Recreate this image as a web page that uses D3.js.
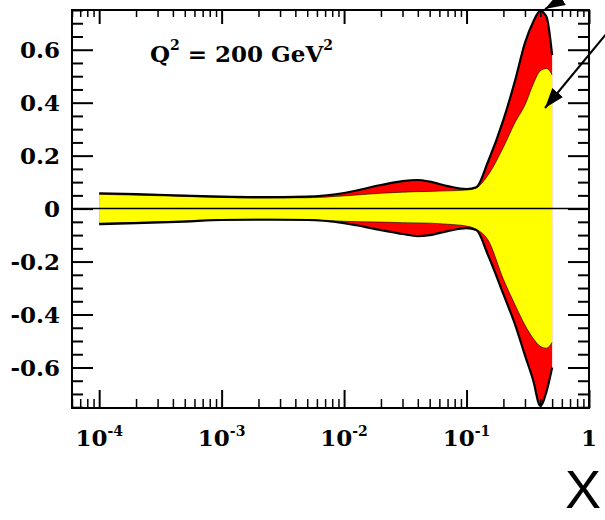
<!DOCTYPE html>
<html>
<head>
<meta charset="utf-8">
<script src="https://cdnjs.cloudflare.com/ajax/libs/d3/7.8.5/d3.min.js"></script>
<style>
body { margin:0; background:#fff; }
svg text { font-family: "DejaVu Serif", serif; font-weight: bold; fill:#000; }
</style>
</head>
<body>
<script>
// x points and band edges
var xs      = [1e-4, 2e-4, 5e-4, 1e-3, 2e-3, 5e-3, 1e-2, 2e-2, 3e-2, 4e-2, 5e-2, 7e-2, 0.1, 0.12, 0.15, 0.2, 0.25, 0.3, 0.35, 0.4, 0.45, 0.5];
var redUp   = [0.058, 0.055, 0.049, 0.045, 0.043, 0.045, 0.059, 0.089, 0.104, 0.108, 0.102, 0.085, 0.074, 0.081, 0.178, 0.335, 0.486, 0.626, 0.705, 0.747, 0.724, 0.58];
var redLo   = [-0.059, -0.055, -0.049, -0.043, -0.042, -0.043, -0.055, -0.081, -0.096, -0.104, -0.1, -0.085, -0.074, -0.081, -0.176, -0.323, -0.44, -0.554, -0.648, -0.745, -0.69, -0.6];
var yelUp   = [0.054, 0.051, 0.046, 0.042, 0.04, 0.041, 0.048, 0.058, 0.062, 0.064, 0.065, 0.067, 0.07, 0.078, 0.127, 0.232, 0.327, 0.391, 0.47, 0.52, 0.529, 0.505];
var yelLo   = [-0.055, -0.052, -0.047, -0.041, -0.04, -0.041, -0.048, -0.051, -0.053, -0.054, -0.055, -0.059, -0.066, -0.078, -0.119, -0.267, -0.365, -0.44, -0.49, -0.52, -0.527, -0.505];

var xMajor  = [1e-4, 1e-3, 1e-2, 1e-1, 1];
var xLabels = [["10", "-4"], ["10", "-3"], ["10", "-2"], ["10", "-1"], ["1", ""]];
var yMajor  = [-0.6, -0.4, -0.2, 0, 0.2, 0.4, 0.6];
var yLabels = ["-0.6", "-0.4", "-0.2", "0", "0.2", "0.4", "0.6"];

var W = 605, H = 520;
// frame edges (note: "top" is taken by window.top)
var fLeft = 72, fRight = 589, fTop = 10, fBottom = 408;

var svg = d3.select("body").append("svg").attr("width", W).attr("height", H);

var x = d3.scaleLog().domain([6e-5, 1]).range([fLeft, fRight]);
var y = d3.scaleLinear().domain([-0.753, 0.75]).range([fBottom, fTop]);

var pts = xs.map(function(v, i){
	return {x: v, ru: redUp[i], rl: redLo[i], yu: yelUp[i], yl: yelLo[i]};
});

var band = function(hi, lo){
	return d3.area()
		.x(function(d){ return x(d.x); })
		.y0(function(d){ return y(d[lo]); })
		.y1(function(d){ return y(d[hi]); })
		.curve(d3.curveMonotoneX);
};
var edge = function(k){
	return d3.line()
		.x(function(d){ return x(d.x); })
		.y(function(d){ return y(d[k]); })
		.curve(d3.curveMonotoneX);
};

svg.append("path").datum(pts).attr("d", band("ru", "rl")).attr("fill", "#ff0000");
svg.append("path").datum(pts).attr("d", band("yu", "yl")).attr("fill", "#ffff00");

["yu", "yl"].forEach(function(k){
	svg.append("path").datum(pts).attr("d", edge(k))
		.attr("fill", "none").attr("stroke", "#000").attr("stroke-opacity", 0.6).attr("stroke-width", 1);
});
["ru", "rl"].forEach(function(k){
	svg.append("path").datum(pts).attr("d", edge(k))
		.attr("fill", "none").attr("stroke", "#000").attr("stroke-width", 2.2);
});

// zero line
svg.append("line")
	.attr("x1", fLeft).attr("x2", fRight)
	.attr("y1", y(0)).attr("y2", y(0))
	.attr("stroke", "#000").attr("stroke-width", 1.5);

// ticks, all pointing inward
var xMinor = x.ticks().filter(function(v){ return xMajor.indexOf(v) < 0; });
var yMinor = y.ticks(30).filter(function(v){
	return !yMajor.some(function(m){ return Math.abs(m - v) < 1e-6; });
});

var tickAxis = function(axis, vals, size, tx, ty, w){
	var g = svg.append("g").attr("transform", "translate(" + tx + "," + ty + ")")
		.call(axis.tickValues(vals).tickSize(-size).tickFormat(""));
	g.select(".domain").remove();
	g.selectAll("line").attr("stroke", "#000").attr("stroke-width", w);
};
tickAxis(d3.axisBottom(x), xMajor, 18, 0, fBottom, 2);
tickAxis(d3.axisBottom(x), xMinor, 9, 0, fBottom, 1.5);
tickAxis(d3.axisTop(x), xMajor, 14, 0, fTop, 2);
tickAxis(d3.axisTop(x), xMinor, 7, 0, fTop, 1.5);
tickAxis(d3.axisLeft(y), yMajor, 21, fLeft, 0, 2);
tickAxis(d3.axisLeft(y), yMinor, 11, fLeft, 0, 2);
tickAxis(d3.axisRight(y), yMajor, 21, fRight, 0, 2);
tickAxis(d3.axisRight(y), yMinor, 11, fRight, 0, 2);

svg.append("rect")
	.attr("x", fLeft).attr("y", fTop)
	.attr("width", fRight - fLeft).attr("height", fBottom - fTop)
	.attr("fill", "none").attr("stroke", "#000").attr("stroke-width", 2);

// tick labels
svg.selectAll(".ylab").data(yMajor).enter().append("text")
	.attr("class", "ylab")
	.attr("x", 60).attr("y", function(d){ return y(d); })
	.attr("dy", "0.36em")
	.attr("text-anchor", "end")
	.style("font-size", "23px")
	.text(function(d, i){ return yLabels[i]; });

var xl = svg.selectAll(".xlab").data(xMajor).enter().append("text")
	.attr("class", "xlab")
	.attr("x", function(d){ return x(d); }).attr("y", 446)
	.attr("text-anchor", "middle")
	.style("font-size", "23px");
xl.append("tspan").text(function(d, i){ return xLabels[i][0]; });
xl.append("tspan").attr("dy", -10).style("font-size", "14px")
	.text(function(d, i){ return xLabels[i][1]; });

// Q^2 label
var t = svg.append("text").attr("x", 150).attr("y", 62).style("font-size", "23px");
t.append("tspan").text("Q");
t.append("tspan").attr("dy", -12).style("font-size", "14px").text("2");
t.append("tspan").attr("dy", 12).text(" = 200 GeV");
t.append("tspan").attr("dy", -12).style("font-size", "14px").text("2");

// big X
svg.append("text").attr("x", 583).attr("y", 508)
	.attr("text-anchor", "middle")
	.style("font-family", "'Liberation Sans', Arial, sans-serif")
	.style("font-weight", "normal")
	.style("font-size", "54px")
	.text("X");

// arrows
svg.append("defs").append("marker")
	.attr("id", "head")
	.attr("markerUnits", "userSpaceOnUse")
	.attr("markerWidth", 22).attr("markerHeight", 16)
	.attr("refX", 20).attr("refY", 7)
	.attr("orient", "auto")
	.append("path").attr("d", "M0,0 L20,7 L0,14 Z").attr("fill", "#000");

svg.append("line").attr("x1", 613).attr("y1", -31).attr("x2", 545).attr("y2", 9)
	.attr("stroke", "#000").attr("stroke-width", 2).attr("marker-end", "url(#head)");
svg.append("line").attr("x1", 621).attr("y1", 16).attr("x2", 545).attr("y2", 108)
	.attr("stroke", "#000").attr("stroke-width", 2).attr("marker-end", "url(#head)");
</script>
</body>
</html>
